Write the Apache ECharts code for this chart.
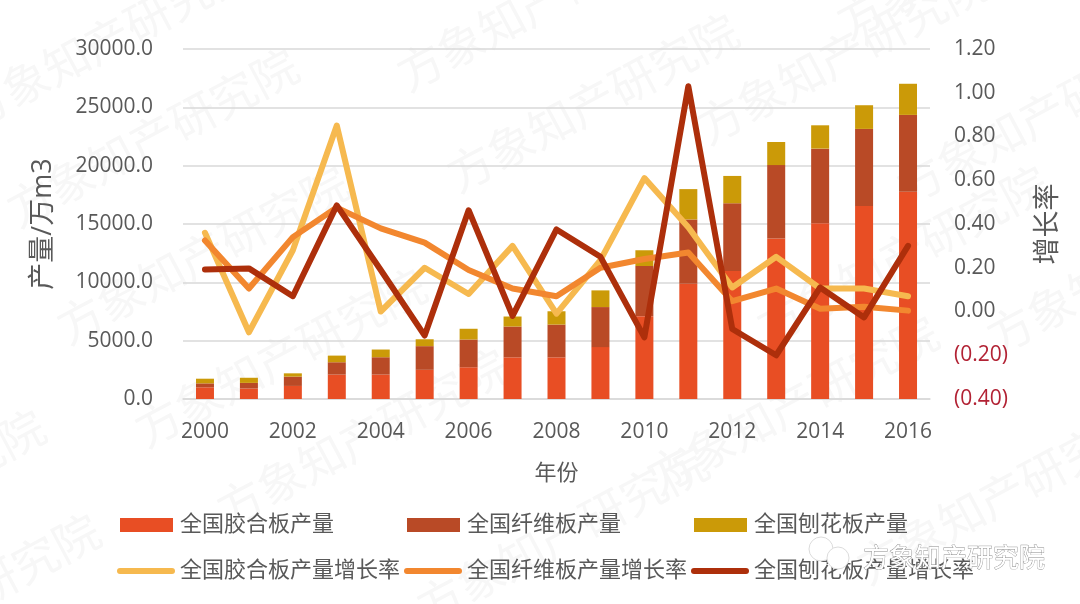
<!DOCTYPE html>
<html>
<head>
<meta charset="utf-8">
<style>
  html, body { margin: 0; padding: 0; background: #fff; }
  #chart { width: 1080px; height: 604px; }
</style>
<script src="https://cdn.jsdelivr.net/npm/echarts@6/dist/echarts.min.js"></script>
</head>
<body>
<div id="chart"></div>
<script>
const years = ["2000","2001","2002","2003","2004","2005","2006","2007","2008","2009","2010","2011","2012","2013","2014","2015","2016"];

const plywood = [1000,900,1120,2090,2090,2500,2720,3570,3570,4450,7100,9870,10980,13750,15070,16550,17760];
const fiberboard = [340,480,800,1060,1490,2030,2380,2640,2810,3430,4300,5520,5800,6300,6390,6600,6590];
const particleboard = [400,440,280,570,660,590,920,860,1140,1430,1350,2600,2340,1980,2000,2030,2670];

const plywoodRate = [0.36,-0.095,0.28,0.85,0.00,0.20,0.08,0.30,-0.01,0.235,0.61,0.385,0.11,0.25,0.105,0.105,0.07];
const fiberboardRate = [0.325,0.105,0.34,0.475,0.38,0.315,0.19,0.105,0.07,0.20,0.24,0.27,0.047,0.105,0.013,0.022,0.004];
const particleboardRate = [0.192,0.197,0.07,0.485,0.19,-0.11,0.463,-0.02,0.375,0.25,-0.118,1.03,-0.08,-0.20,0.11,-0.027,0.30];

const barNames = ["全国胶合板产量","全国纤维板产量","全国刨花板产量"];
const lineNames = ["全国胶合板产量增长率","全国纤维板产量增长率","全国刨花板产量增长率"];

const cjk = '"Open Sans","Noto Sans CJK SC",sans-serif';
const grey = "#595959";

// faint repeated background mark, start of each text run
const markStarts = [
    [-35,115],[10,213],[400,77],[450,178],[840,25],[700,130],[60,330],[138,433],
    [-243,574],[-188,678],[220,513],[650,480],[900,190],[990,340],[760,330],[420,610],[860,570]
];

const chart = echarts.init(document.getElementById("chart"));

const barSeries = (name, data, color) => ({
    name, data, type: "bar", stack: "output", barWidth: 18,
    itemStyle: { color },
});
const lineSeries = (name, data, color) => ({
    name, data, type: "line", yAxisIndex: 1, symbol: "none", smooth: false,
    lineStyle: { color, width: 6, cap: "round", join: "round" },
    itemStyle: { color },
});

chart.setOption({
    animation: false,
    backgroundColor: "#ffffff",
    textStyle: { fontFamily: cjk },
    grid: { left: 183, right: 150, top: 49, bottom: 205 },
    legend: [
        {
            data: barNames, left: 120, top: 514, padding: 0, icon: "rect", itemWidth: 53, itemHeight: 14, itemGap: 73,
            textStyle: { color: grey, fontSize: 22, padding: [0, 0, 0, 2] },
        },
        {
            data: lineNames, left: 117, top: 560, padding: 0, itemWidth: 58, itemHeight: 6, itemGap: 4,
            icon: "path://M3,0 H55 A3,3 0 0 1 55,6 H3 A3,3 0 0 1 3,0 Z",
            textStyle: { color: grey, fontSize: 22 },
        },
    ],
    xAxis: {
        type: "category", data: years,
        name: "年份", nameLocation: "middle", nameGap: 64,
        nameTextStyle: { color: grey, fontSize: 22 },
        axisTick: { show: false },
        axisLine: { lineStyle: { color: "#d9d9d9", width: 1.5 } },
        axisLabel: { interval: 1, color: grey, fontSize: 21, margin: 23 },
    },
    yAxis: [
        {
            type: "value", min: 0, max: 30000, interval: 5000,
            name: "产量/万m3", nameLocation: "middle", nameGap: 126,
            nameTextStyle: { color: grey, fontSize: 27 },
            axisLine: { show: false }, axisTick: { show: false },
            splitLine: { lineStyle: { color: "#d9d9d9", width: 1.5 } },
            axisLabel: { color: grey, fontSize: 21, margin: 30, padding: [4, 0, 0, 0], formatter: (v) => v.toFixed(1) },
        },
        {
            type: "value", min: -0.4, max: 1.2, interval: 0.2,
            name: "增长率", nameLocation: "middle", nameGap: 105, nameRotate: 90,
            nameTextStyle: { color: grey, fontSize: 27 },
            axisLine: { show: false }, axisTick: { show: false },
            splitLine: { show: false },
            axisLabel: {
                fontSize: 21, margin: 24, padding: [6, 0, 0, 0],
                color: (v) => (Number(v) < -0.001 ? "#b22234" : grey),
                formatter: (v) => (v < -0.001 ? "(" + Math.abs(v).toFixed(2) + ")" : v.toFixed(2)),
            },
        },
    ],
    series: [
        barSeries(barNames[0], plywood, "#e84e24"),
        barSeries(barNames[1], fiberboard, "#b94a26"),
        barSeries(barNames[2], particleboard, "#cb9a08"),
        lineSeries(lineNames[0], plywoodRate, "#f6b94f"),
        lineSeries(lineNames[1], fiberboardRate, "#f2872f"),
        lineSeries(lineNames[2], particleboardRate, "#ad2f0b"),
    ],
    graphic: [
        ...markStarts.map(([x, y]) => ({
            type: "text", x, y, rotation: 28 * Math.PI / 180, z: -10, silent: true,
            style: { text: "方象知产研究院", fill: "#f7f7f7", font: '46px "Noto Sans CJK SC"', textAlign: "left", textVerticalAlign: "middle" },
        })),
        { type: "circle", shape: { cx: 821, cy: 549, r: 12 }, z: 50, style: { fill: "#ffffff", stroke: "#dcdcdc", lineWidth: 1 } },
        { type: "circle", shape: { cx: 838, cy: 558, r: 11 }, z: 51, style: { fill: "#ffffff", stroke: "#dcdcdc", lineWidth: 1 } },
        {
            type: "text", x: 863, y: 557, z: 52,
            style: {
                text: "方象知产研究院", fill: "#ffffff", font: '26px "Noto Sans CJK SC"',
                textAlign: "left", textVerticalAlign: "middle",
                stroke: "#8c8c8c", lineWidth: 0.8,
            },
        },
    ],
});
</script>
</body>
</html>
